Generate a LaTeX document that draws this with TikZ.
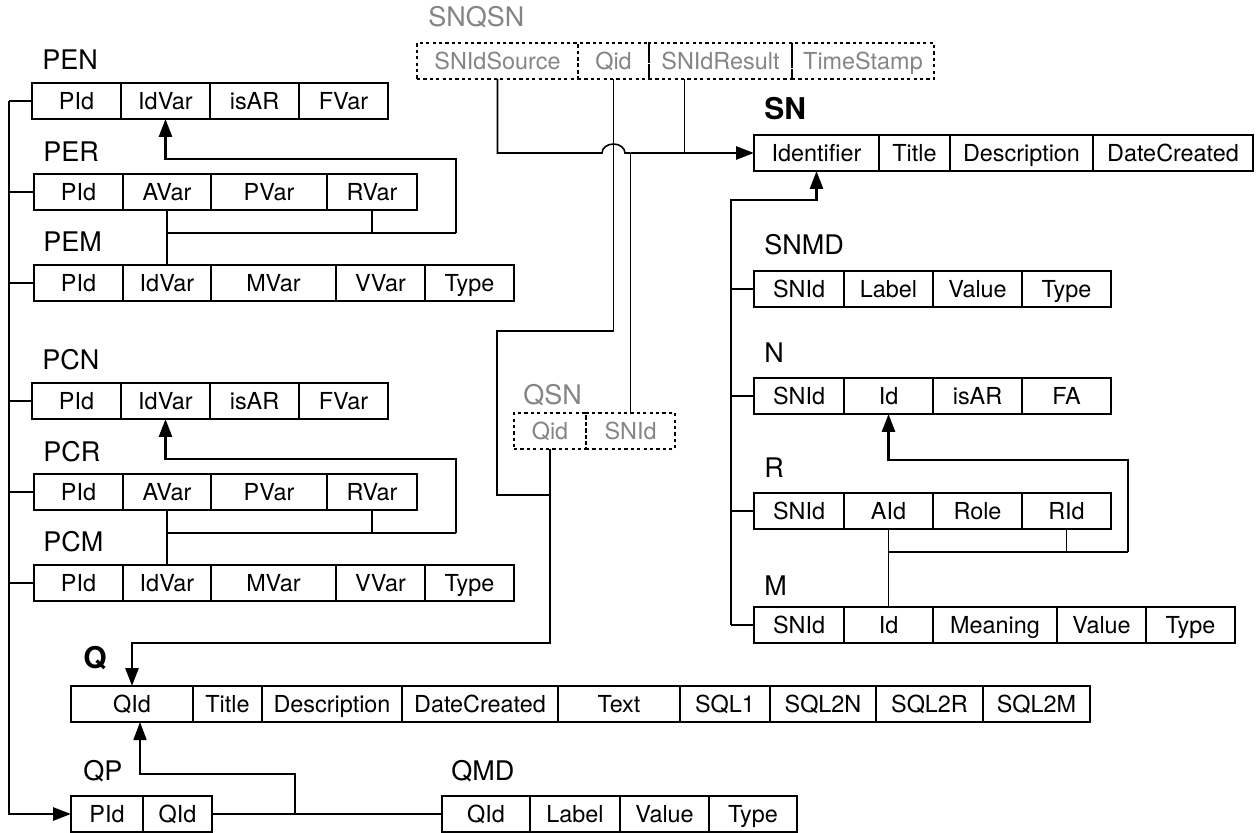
\documentclass[tikz,border=0pt]{standalone}
\usepackage{fontspec}
\setmainfont{TeX Gyre Heros}
\usepackage{tikz}
\usetikzlibrary{arrows.meta,positioning,calc}
\definecolor{faded}{HTML}{858585}

\newcommand{\dbrow}[4][]{%
  \node[inner sep=0pt, outer sep=0pt, minimum size=0pt] (#2-0) at #3 {};
  \foreach \cw/\ct [count=\ci, remember=\ci as \pj (initially 0)] in {#4}
    \node[cell, #1, minimum width=\cw*0.5pt, anchor=north west] (#2-\ci) at (#2-\pj.north east) {\ct};
}

\begin{document}
\begin{tikzpicture}[
  x=0.5pt, y=-0.5pt,
  cell/.style={draw, line width=0.75pt, inner sep=0pt, outer sep=0pt, minimum height=18pt,
    text height=10.9pt, text depth=2.4pt, font=\fontsize{11.7}{14}\selectfont},
  dashedcell/.style={dash pattern=on 1.6pt off 1.6pt, text=faded},
  tname/.style={anchor=base west, inner sep=0pt, font=\fontsize{13.5}{16}\selectfont},
  key/.style={tname, font=\fontsize{15}{18}\selectfont\bfseries},
  link/.style={line width=0.8pt},
  arr/.style={-{Triangle[length=9pt,width=6.5pt]}, line width=1.4pt}
]
\useasboundingbox (0,0) rectangle (1257,833);
\coordinate (bus) at (9,0);

\foreach \grp/\Grp/\dy in {e/E/0,c/C/300} {
  \dbrow{p\grp n}{(32,83+\dy)}{89/PId,89/IdVar,89/isAR,89/FVar}
  \dbrow{p\grp r}{(34,174+\dy)}{89/PId,88/AVar,116/PVar,90/RVar}
  \dbrow{p\grp m}{(34,265+\dy)}{89/PId,88/IdVar,125/MVar,89/VVar,89/Type}
  \node[tname] (p\grp n-t) at ([shift={(10,-13)}]p\grp n-1.north west) {P\Grp N};
  \node[tname] (p\grp r-t) at ([shift={(9,-12)}]p\grp r-1.north west) {P\Grp R};
  \node[tname] (p\grp m-t) at ([shift={(9,-13)}]p\grp m-1.north west) {P\Grp M};
  \coordinate (p\grp R) at (456,233+\dy);
  \coordinate (p\grp T) at (456,159+\dy);
  \draw[link] (p\grp r-2.south) -- (p\grp m-2.north);
  \draw[link] (p\grp r-4.south) |- (p\grp R);
  \draw[link] (p\grp r-2.south |- p\grp R) -- (p\grp R);
  \draw[arr] (p\grp R) -- (p\grp T) -| (p\grp n-2.south);
  \draw[link] (p\grp n-1.west) -- (p\grp n-1.west -| bus);
  \draw[link] (p\grp r-1.west) -- (p\grp r-1.west -| bus);
  \draw[link] (p\grp m-1.west) -- (p\grp m-1.west -| bus);
}

\dbrow[dashedcell]{snqsn}{(417,43)}{161/SNIdSource,71/Qid,143/SNIdResult,142/TimeStamp}
\node[tname, text=faded] (snqsn-t) at ([shift={(11,-16)}]snqsn-1.north west) {SNQSN};
\dbrow[dashedcell]{qsn}{(514,413)}{72/Qid,89/SNId}
\node[tname, text=faded] (qsn-t) at ([shift={(9,-8)}]qsn-1.north west) {QSN};

\dbrow{sn}{(754,135)}{125/Identifier,71/Title,143/Description,160/DateCreated}
\node[key] (sn-t) at ([shift={(10,-15)}]sn-1.north west) {SN};
\dbrow{snmd}{(754,271)}{90/SNId,89/Label,89/Value,89/Type}
\node[tname] (snmd-t) at ([shift={(10,-16)}]snmd-1.north west) {SNMD};
\dbrow{n}{(754,378)}{90/SNId,89/Id,89/isAR,89/FA}
\node[tname] (n-t) at ([shift={(10,-15)}]n-1.north west) {N};
\dbrow{r}{(754,493)}{90/SNId,89/AId,89/Role,89/RId}
\node[tname] (r-t) at ([shift={(10,-15)}]r-1.north west) {R};
\dbrow{m}{(754,607)}{90/SNId,89/Id,124/Meaning,89/Value,89/Type}
\node[tname] (m-t) at ([shift={(10,-12)}]m-1.north west) {M};

\dbrow{q}{(71,686)}{122/QId,69/Title,140/Description,156/DateCreated,122/Text,90/SQL1,106/SQL2N,107/SQL2R,107/SQL2M}
\node[key] (q-t) at ([shift={(12,-18)}]q-1.north west) {Q};
\dbrow{qp}{(71,796)}{72/PId,69/QId}
\node[tname] (qp-t) at ([shift={(12,-16)}]qp-1.north west) {QP};
\dbrow{qmd}{(442,796)}{88/QId,90/Label,89/Value,88/Type}
\node[tname] (qmd-t) at ([shift={(9,-16)}]qmd-1.north west) {QMD};

\draw[arr] (pen-1.west -| bus) |- (qp-1.west);

\coordinate (hop) at (snqsn-2.south |- sn-1.west);
\draw[link] (snqsn-1.south) |- ([xshift=-5.75pt]hop)
  arc[start angle=180, end angle=0, x radius=5.75pt, y radius=4.5pt] -- (qsn-2.north |- hop);
\draw[arr] (qsn-2.north |- hop) -- (sn-1.west);
\draw[link] ([xshift=-18pt]snqsn-3.south) -- ([xshift=-18pt]snqsn-3.south |- hop);
\draw[link] (qsn-2.north) -- (qsn-2.north |- hop);

\coordinate (qa) at (497,331);
\coordinate (qb) at (497,495);
\coordinate (qbend) at (550,643);
\draw[link] (snqsn-2.south) |- (qa) -- (qb) -- (qb -| qsn-1.south);
\draw[arr] (qsn-1.south) -- (qbend) -| (q-1.north);

\coordinate (qpbend) at (295,774);
\draw[link] (qp-2.east) -- (qmd-1.west);
\draw[arr, link] (qpbend |- qp-2.east) -- (qpbend) -| ([xshift=4pt]q-1.south);

\coordinate (snbus) at (731,200);
\draw[link] (snmd-1.west) -- (snmd-1.west -| snbus);
\draw[link] (n-1.west) -- (n-1.west -| snbus);
\draw[link] (r-1.west) -- (r-1.west -| snbus);
\draw[link] (m-1.west) -- (m-1.west -| snbus);
\draw[arr] (m-1.west -| snbus) -- (snbus) -| (sn-1.south);

\coordinate (nR) at (1128,552);
\coordinate (nT) at (1128,460);
\draw[link] (r-2.south) -- (m-2.north);
\draw[link] (r-4.south) |- (nR);
\draw[link] (r-2.south |- nR) -- (nR);
\draw[arr] (nR) -- (nT) -| (n-2.south);
\end{tikzpicture}
\end{document}
